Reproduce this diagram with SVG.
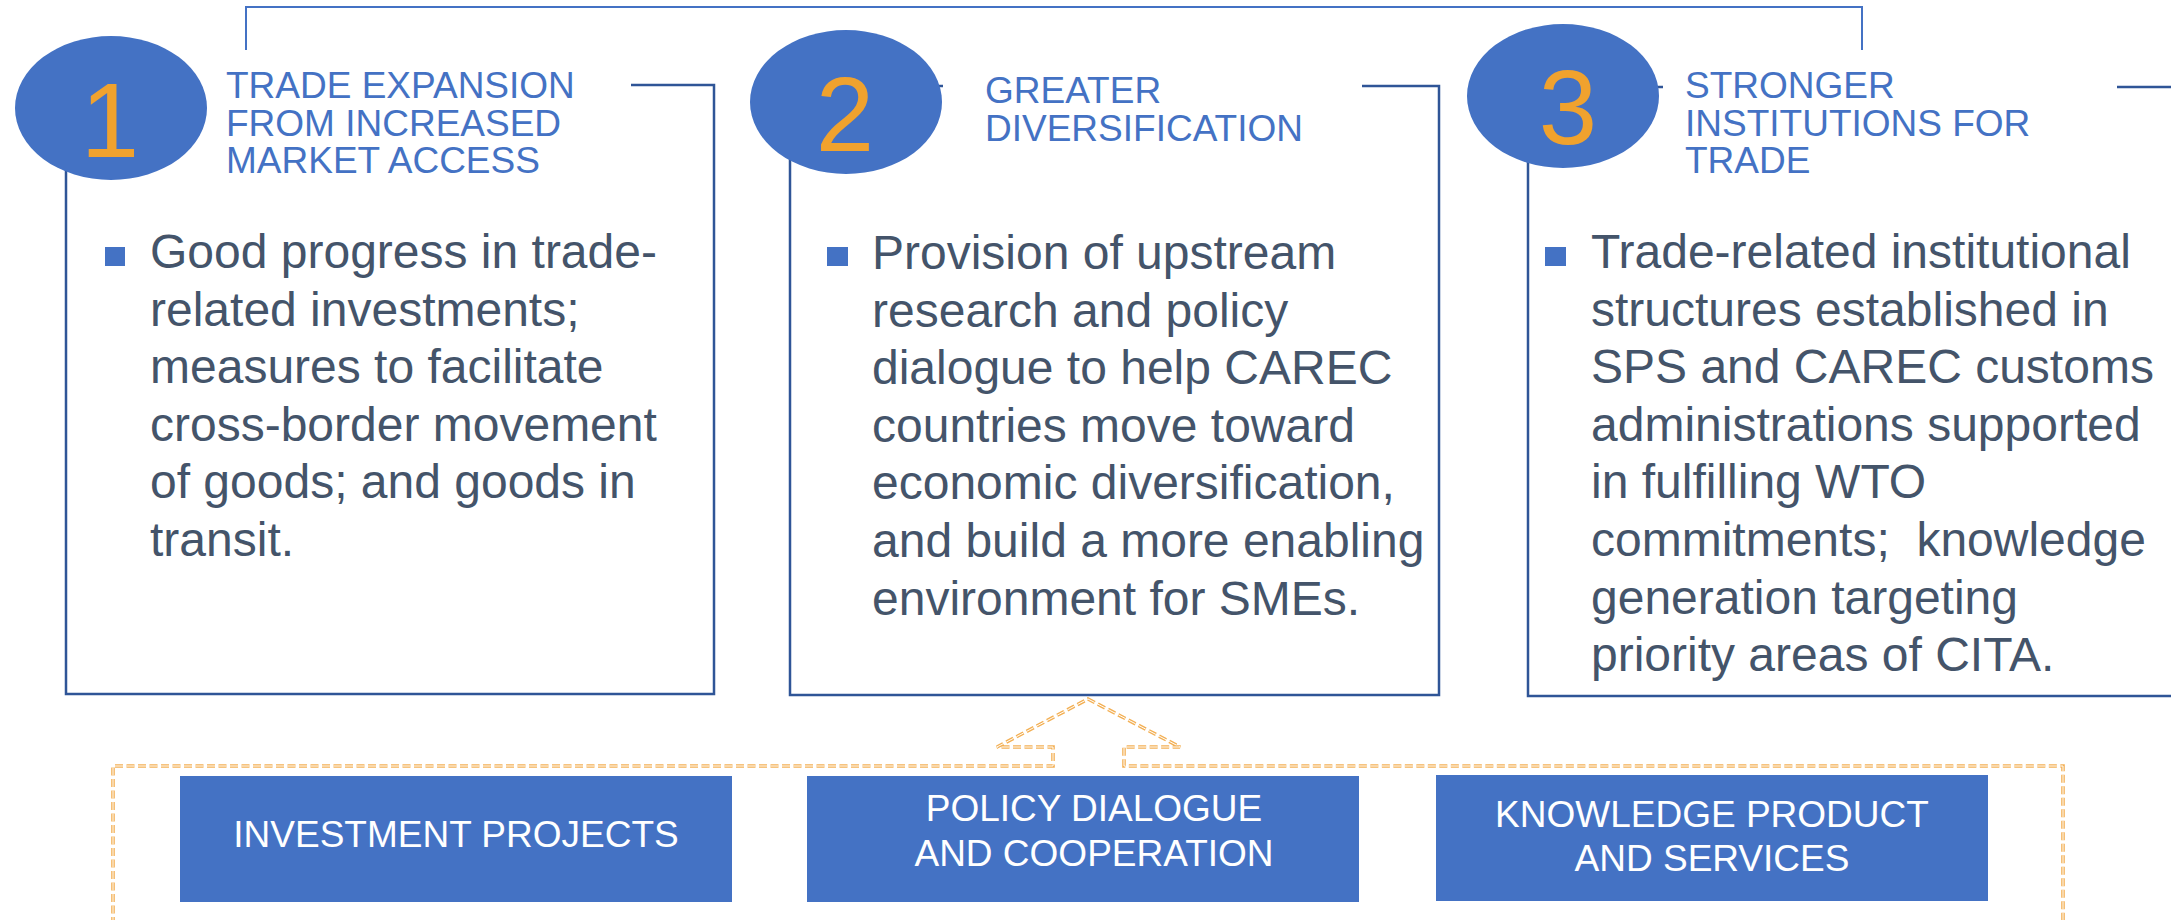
<svg xmlns="http://www.w3.org/2000/svg" width="2171" height="920" viewBox="0 0 2171 920">
<style>
.frame{fill:none;stroke:#2F5597;stroke-width:2.5}
.mask{fill:#ffffff}
.circ{fill:#4472C4}
.num{font-family:"Liberation Sans",Arial,sans-serif;font-size:105px;fill:#F0A22E;text-anchor:middle}
.title{font-family:"Liberation Sans",Arial,sans-serif;font-size:37px;fill:#4472C4}
.body{font-family:"Liberation Sans",Arial,sans-serif;font-size:48px;fill:#44546A;white-space:pre}
.bullet{fill:#4472C4}
.act{fill:#4472C4}
.actText{font-family:"Liberation Sans",Arial,sans-serif;font-size:37px;fill:#ffffff;text-anchor:middle}
.dashO{fill:none;stroke:#F3B055;stroke-width:3.6;stroke-dasharray:8 3.5}
.dashI{fill:none;stroke:#ffffff;stroke-width:1;stroke-dasharray:8 3.5}
</style>
<rect width="2171" height="920" fill="#ffffff"/>
<g id="connectors">
  <path d="M246,50 L246,7 L1862,7 L1862,50" fill="none" stroke="#4472C4" stroke-width="2"/>
  <path d="M113,925 L113,766 L1053,766 L1053,747 L997,747 L1088,699 L1180,747 L1124,747 L1124,766 L2063,766 L2063,925" class="dashO"/>
  <path d="M113,925 L113,766 L1053,766 L1053,747 L997,747 L1088,699 L1180,747 L1124,747 L1124,766 L2063,766 L2063,925" class="dashI"/>
</g>
<g id="node1">
  <rect class="frame" x="66" y="85" width="648" height="609"/>
  <rect class="mask" x="201" y="50" width="430" height="135"/>
  <ellipse class="circ" cx="111" cy="108" rx="96" ry="72"/>
  <text class="num" x="110" y="157">1</text>
  <text class="title" x="226" y="98">TRADE EXPANSION</text>
  <text class="title" x="226" y="135.5">FROM INCREASED</text>
  <text class="title" x="226" y="173">MARKET ACCESS</text>
  <rect class="bullet" x="105" y="247" width="20" height="19"/>
  <text class="body" x="150" y="268">Good progress in trade-</text>
  <text class="body" x="150" y="325.6">related investments;</text>
  <text class="body" x="150" y="383.2">measures to facilitate</text>
  <text class="body" x="150" y="440.8">cross-border movement</text>
  <text class="body" x="150" y="498.4">of goods; and goods in</text>
  <text class="body" x="150" y="556">transit.</text>
</g>
<g id="node2">
  <rect class="frame" x="790" y="86" width="649" height="609"/>
  <rect class="mask" x="943" y="50" width="419" height="135"/>
  <ellipse class="circ" cx="846" cy="102" rx="96" ry="72"/>
  <text class="num" x="845" y="151">2</text>
  <text class="title" x="985" y="103">GREATER</text>
  <text class="title" x="985" y="141">DIVERSIFICATION</text>
  <rect class="bullet" x="827" y="247" width="21" height="19"/>
  <text class="body" x="872" y="269">Provision of upstream</text>
  <text class="body" x="872" y="326.6">research and policy</text>
  <text class="body" x="872" y="384.2">dialogue to help CAREC</text>
  <text class="body" x="872" y="441.8">countries move toward</text>
  <text class="body" x="872" y="499.4">economic diversification,</text>
  <text class="body" x="872" y="557">and build a more enabling</text>
  <text class="body" x="872" y="614.6">environment for SMEs.</text>
</g>
<g id="node3">
  <rect class="frame" x="1528" y="87" width="720" height="609"/>
  <rect class="mask" x="1663" y="50" width="454" height="135"/>
  <ellipse class="circ" cx="1563" cy="96" rx="96" ry="72"/>
  <text class="num" x="1568" y="144">3</text>
  <text class="title" x="1685" y="98">STRONGER</text>
  <text class="title" x="1685" y="135.5">INSTITUTIONS FOR</text>
  <text class="title" x="1685" y="173">TRADE</text>
  <rect class="bullet" x="1545" y="247" width="21" height="19"/>
  <text class="body" x="1591" y="268">Trade-related institutional</text>
  <text class="body" x="1591" y="325.6">structures established in</text>
  <text class="body" x="1591" y="383.2">SPS and CAREC customs</text>
  <text class="body" x="1591" y="440.8">administrations supported</text>
  <text class="body" x="1591" y="498.4">in fulfilling WTO</text>
  <text class="body" x="1591" y="556">commitments;  knowledge</text>
  <text class="body" x="1591" y="613.6">generation targeting</text>
  <text class="body" x="1591" y="671.2">priority areas of CITA.</text>
</g>
<g id="investment">
  <rect class="act" x="180" y="776" width="552" height="126"/>
  <text class="actText" x="456" y="847">INVESTMENT PROJECTS</text>
</g>
<g id="policy">
  <rect class="act" x="807" y="776" width="552" height="126"/>
  <text class="actText" x="1094" y="821">POLICY DIALOGUE</text>
  <text class="actText" x="1094" y="866">AND COOPERATION</text>
</g>
<g id="knowledge">
  <rect class="act" x="1436" y="775" width="552" height="126"/>
  <text class="actText" x="1712" y="827">KNOWLEDGE PRODUCT</text>
  <text class="actText" x="1712" y="871">AND SERVICES</text>
</g>
</svg>
